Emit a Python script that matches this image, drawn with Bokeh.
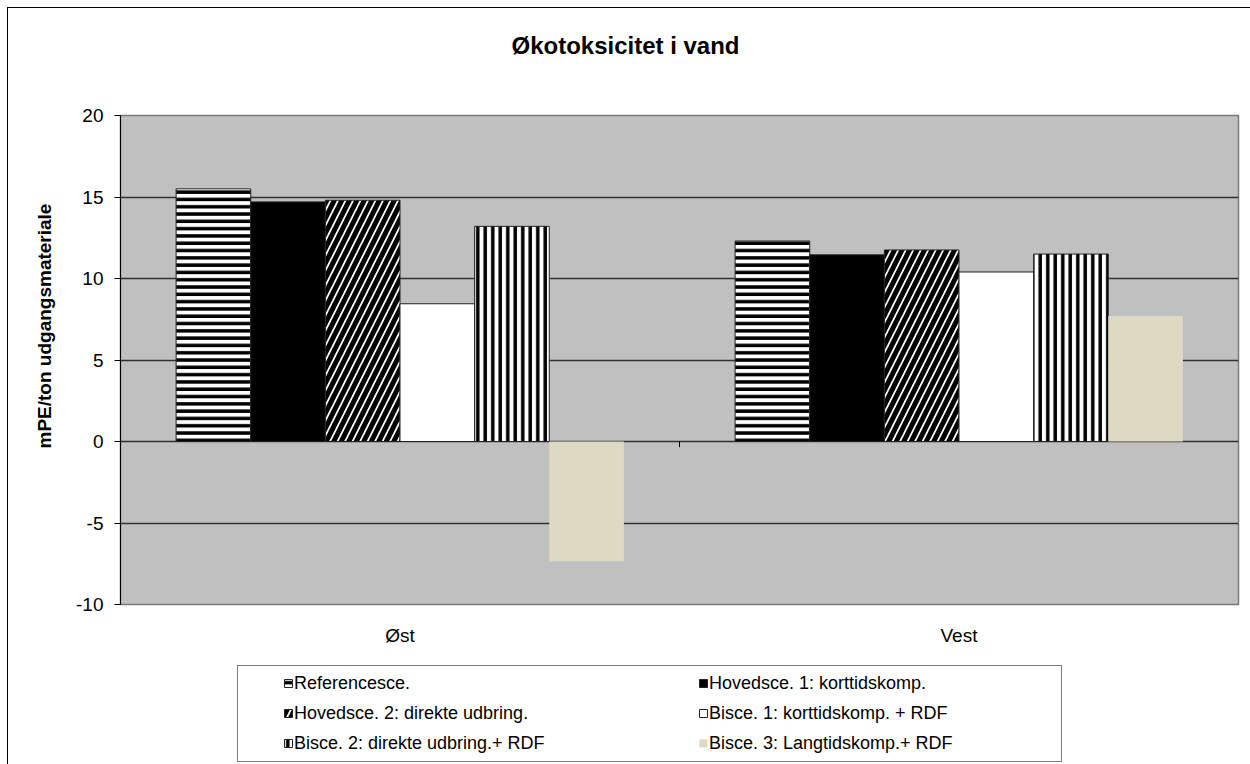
from bokeh.plotting import figure
from bokeh.models import (Range1d, FixedTicker, Legend, LegendItem, Label, Title, ColumnDataSource)
from bokeh.layouts import column
from bokeh.embed import file_html
from bokeh.resources import INLINE

# ---------------- data ----------------
categories = ["Øst", "Vest"]
series = [
    "Referencesce.",
    "Hovedsce. 1: korttidskomp.",
    "Hovedsce. 2: direkte udbring.",
    "Bisce. 1: korttidskomp. + RDF",
    "Bisce. 2: direkte udbring.+ RDF",
    "Bisce. 3: Langtidskomp.+ RDF",
]
values_ost = [15.5, 14.7, 14.8, 8.45, 13.2, -7.35]
values_vest = [12.3, 11.45, 11.75, 10.4, 11.5, 7.7]
y_ticks = [-10, -5, 0, 5, 10, 15, 20]
title_text = "Økotoksicitet i vand"
y_title = "mPE/ton udgangsmateriale"

# ---------------- styles ----------------
FONT = "Liberation Sans"
W = 1242
styles = [
    dict(fill_color="white", hatch_pattern="-", hatch_color="black", hatch_scale=7.3, hatch_weight=3.5, line_color="#222222"),
    dict(fill_color="black", line_color="#222222"),
    dict(fill_color="white", hatch_pattern="/", hatch_color="black", hatch_scale=15, hatch_weight=5, line_color="#222222"),
    dict(fill_color="white", line_color="#222222"),
    dict(fill_color="white", hatch_pattern="|", hatch_color="black", hatch_scale=7.5, hatch_weight=3.5, line_color="#222222"),
    dict(fill_color="#DDD9C3", line_color=None),
]


def blank_fig(h):
    f = figure(width=W, height=h, output_backend="svg", toolbar_location=None,
               x_range=Range1d(0, 1), y_range=Range1d(0, 1),
               min_border_left=0, min_border_right=0, min_border_top=0, min_border_bottom=0)
    f.axis.visible = False
    f.grid.visible = False
    f.outline_line_color = None
    f.background_fill_color = "white"
    f.border_fill_color = "white"
    return f


# ---------------- title figure ----------------
# (its frame is aligned with the main plot frame by the column layout)
tf = blank_fig(70)
tf.add_layout(Label(x=505, y=33, x_units="screen", y_units="screen", text=title_text,
                    text_align="center", text_baseline="middle", text_font=FONT,
                    text_font_size="24px", text_font_style="bold", text_color="black"))

# ---------------- main figure ----------------
p = figure(width=W, height=580, output_backend="svg", toolbar_location=None,
           x_range=Range1d(0, len(categories)), y_range=Range1d(y_ticks[0], y_ticks[-1]),
           min_border_left=112, min_border_right=12, min_border_top=37, min_border_bottom=54)
p.background_fill_color = "#C0C0C0"
p.border_fill_color = "white"
p.outline_line_color = "#7a7a7a"
p.outline_line_width = 1.5

p.xgrid.visible = False
p.ygrid.ticker = FixedTicker(ticks=y_ticks)
p.ygrid.grid_line_color = "#303030"
p.ygrid.grid_line_width = 1.3

p.yaxis.ticker = FixedTicker(ticks=y_ticks)
p.yaxis.major_label_overrides = {t: str(t) for t in y_ticks}
p.yaxis.axis_line_color = "black"
p.yaxis.major_tick_line_color = "black"
p.yaxis.major_tick_out = 6
p.yaxis.major_tick_in = 0
p.yaxis.minor_tick_line_color = None
p.yaxis.major_label_text_font = FONT
p.yaxis.major_label_text_font_size = "19px"
p.yaxis.major_label_text_color = "black"
p.yaxis.major_label_standoff = 11

n = len(categories)
centers = [i + 0.5 for i in range(n)]
p.xaxis.ticker = FixedTicker(ticks=centers)
p.xaxis.major_label_overrides = {c: name for c, name in zip(centers, categories)}
p.xaxis.axis_line_color = None
p.xaxis.major_tick_line_color = None
p.xaxis.minor_tick_line_color = None
p.xaxis.major_label_text_font = FONT
p.xaxis.major_label_text_font_size = "19px"
p.xaxis.major_label_text_color = "black"
p.xaxis.major_label_standoff = 14

ytitle = Title(text=y_title, align="left", offset=156, standoff=38, text_font=FONT,
               text_font_size="19px", text_font_style="bold", text_color="black")
p.add_layout(ytitle, "left")

nser = len(series)
bw = 0.1335
for i in range(nser):
    xs = [c + (i - (nser - 1) / 2) * bw for c in centers]
    tops = [values_ost[i], values_vest[i]]
    src = ColumnDataSource(dict(x=xs, top=tops))
    p.vbar(x="x", top="top", bottom=0, width=bw, source=src, line_width=1, **styles[i])

# category separator tick on the zero line
p.segment(x0=[n / 2], y0=[0], x1=[n / 2], y1=[-0.35], line_color="black", line_width=1)

# ---------------- legend figure ----------------
lf = blank_fig(106)
# zero-height helper bars (outside the visible range) that only provide the legend swatches
lrend = [lf.vbar(x=[-5], top=[0], bottom=[0], width=0.1, line_width=1, **styles[i]) for i in range(nser)]
dummy = lf.vbar(x=[-5], top=[0], bottom=[0], width=0.1, fill_alpha=0, line_alpha=0)
box = Legend(items=[LegendItem(label=" ", renderers=[dummy])], location=(117, 2),
             padding=0, glyph_width=1, glyph_height=1, label_standoff=0, label_width=822,
             label_height=95, border_line_color="black", border_line_width=1,
             background_fill_color="white", background_fill_alpha=1, margin=0,
             label_text_font_size="1px")
lf.add_layout(box)


def make_legend(idx, x):
    lg = Legend(items=[LegendItem(label=series[j], renderers=[lrend[j]]) for j in idx],
                location=(x, 10), padding=0, spacing=8, glyph_width=10, glyph_height=10,
                label_standoff=1, label_height=22, border_line_color=None,
                background_fill_alpha=0, margin=0)
    lg.label_text_font = FONT
    lg.label_text_font_size = "18px"
    lg.label_text_color = "black"
    return lg


lf.add_layout(make_legend([0, 2, 4], 163))
lf.add_layout(make_legend([1, 3, 5], 578))

layout = column(tf, p, lf, spacing=0,
                styles={"border-left": "1px solid black", "border-top": "1px solid black",
                        "margin-left": "7px", "margin-top": "7px"})

open("out.html", "w").write(file_html(layout, INLINE))
